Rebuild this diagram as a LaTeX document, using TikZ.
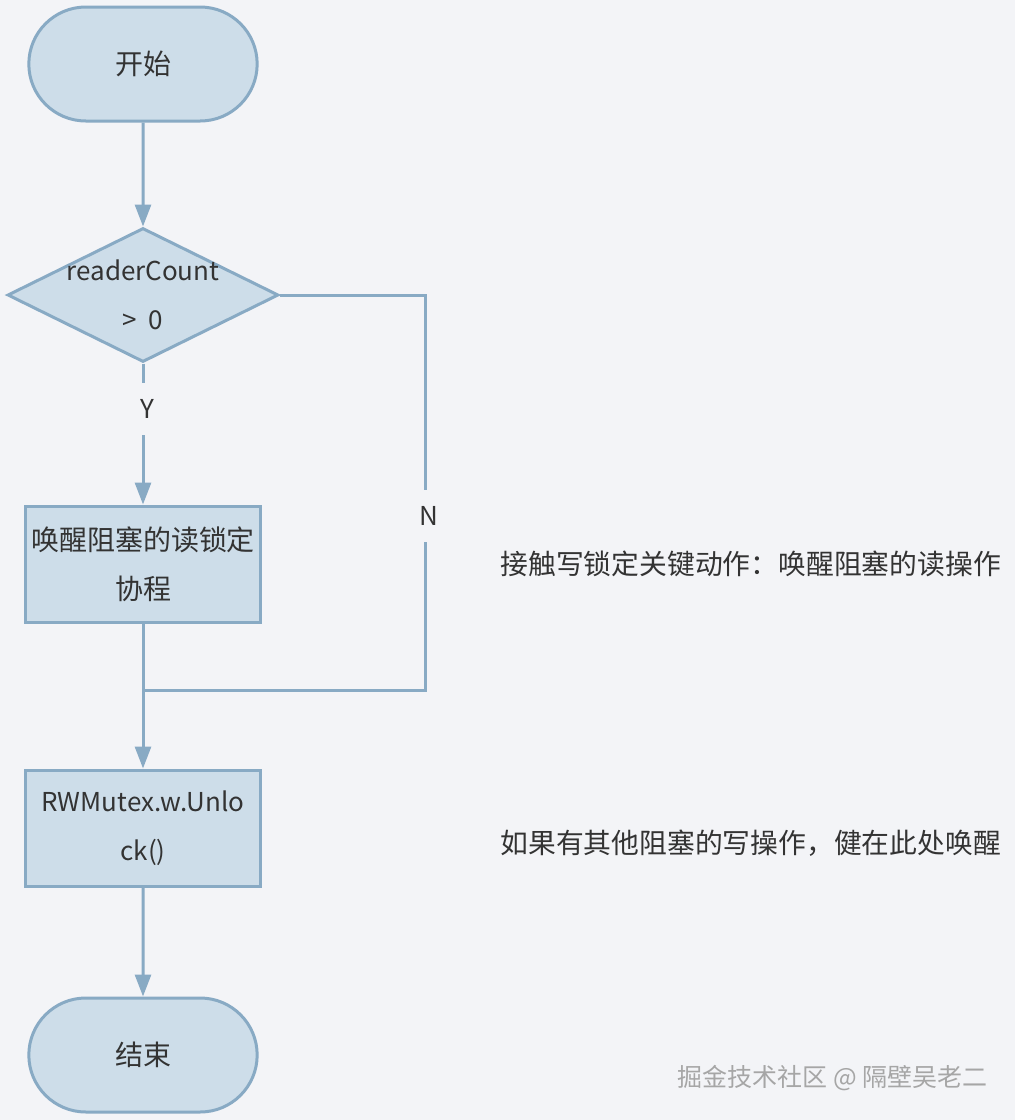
\documentclass[tikz,border=0pt]{standalone}
\usepackage{fontspec}
\usepackage{tikz}
\usepackage{xcolor}
\usetikzlibrary{shapes.geometric,shapes.misc,arrows.meta}
\setmainfont{Noto Sans CJK SC}

\definecolor{bgcol}{HTML}{F3F4F7}
\definecolor{fillcol}{HTML}{CDDDE9}
\definecolor{edgecol}{HTML}{88AAC4}
\definecolor{txtcol}{HTML}{333333}

\tikzset{
  flowfont/.style={font=\fontsize{28}{49}\selectfont, text=txtcol},
  latinfont/.style={font=\fontsize{26}{49}\selectfont, text=txtcol},
  terminal/.style={rounded rectangle, draw=edgecol, fill=fillcol, line width=3pt,
    minimum width=235pt, minimum height=114pt, flowfont},
  procbox/.style={rectangle, draw=edgecol, fill=fillcol, line width=3pt,
    minimum width=235pt, minimum height=116pt, align=center, flowfont},
  decision/.style={diamond, draw=edgecol, fill=fillcol, line width=3pt,
    minimum width=271pt, minimum height=134pt, inner sep=0pt},
  flowline/.style={draw=edgecol, line width=3pt, -{Triangle[width=16pt,length=22pt]}},
  gaplabel/.style={fill=bgcol, minimum height=52pt, inner sep=2pt, latinfont},
  note/.style={anchor=west, font=\fontsize{27.8}{30}\selectfont, text=txtcol}
}

\begin{document}
\begin{tikzpicture}[x=1pt, y=-1pt]
\fill[bgcol] (0,0) rectangle (1015,1120);
\useasboundingbox (0,0) rectangle (1015,1120);

% flow nodes
\node[terminal] (start) at (143,64) {开始};
\node[decision, label={[latinfont, align=center]center:readerCount\\>\ \ 0}] (dec) at (143,295) {};
\node[procbox] (wake) at (143,564) {唤醒阻塞的读锁定\\协程};
\node[procbox, latinfont] (unlock) at (143,828) {RWMutex.w.Unlo\\ck()};
\node[terminal] (stop) at (143,1055) {结束};

% side notes
\node[note] (note1) at (497,564) {接触写锁定关键动作：唤醒阻塞的读操作};
\node[note] (note2) at (497,843) {如果有其他阻塞的写操作，健在此处唤醒};
\node[anchor=west, font=\fontsize{25}{28}\selectfont, text=gray!70] (mark) at (674,1078) {掘金技术社区 @ 隔壁吴老二};

% connectors
\coordinate (ncorner) at (425,690);
\coordinate (join) at (143,690);
\draw[flowline] (start) -- (dec);
\draw[flowline] (dec) -- node[gaplabel, pos=0.32, xshift=4pt] (ylab) {Y} (wake);
\draw[draw=edgecol, line width=3pt] (dec.east) -| node[gaplabel, pos=0.78, xshift=4pt] (nlab) {N} (ncorner) -- (join);
\draw[flowline] (wake) -- (unlock);
\draw[flowline] (unlock) -- (stop);
\end{tikzpicture}
\end{document}
